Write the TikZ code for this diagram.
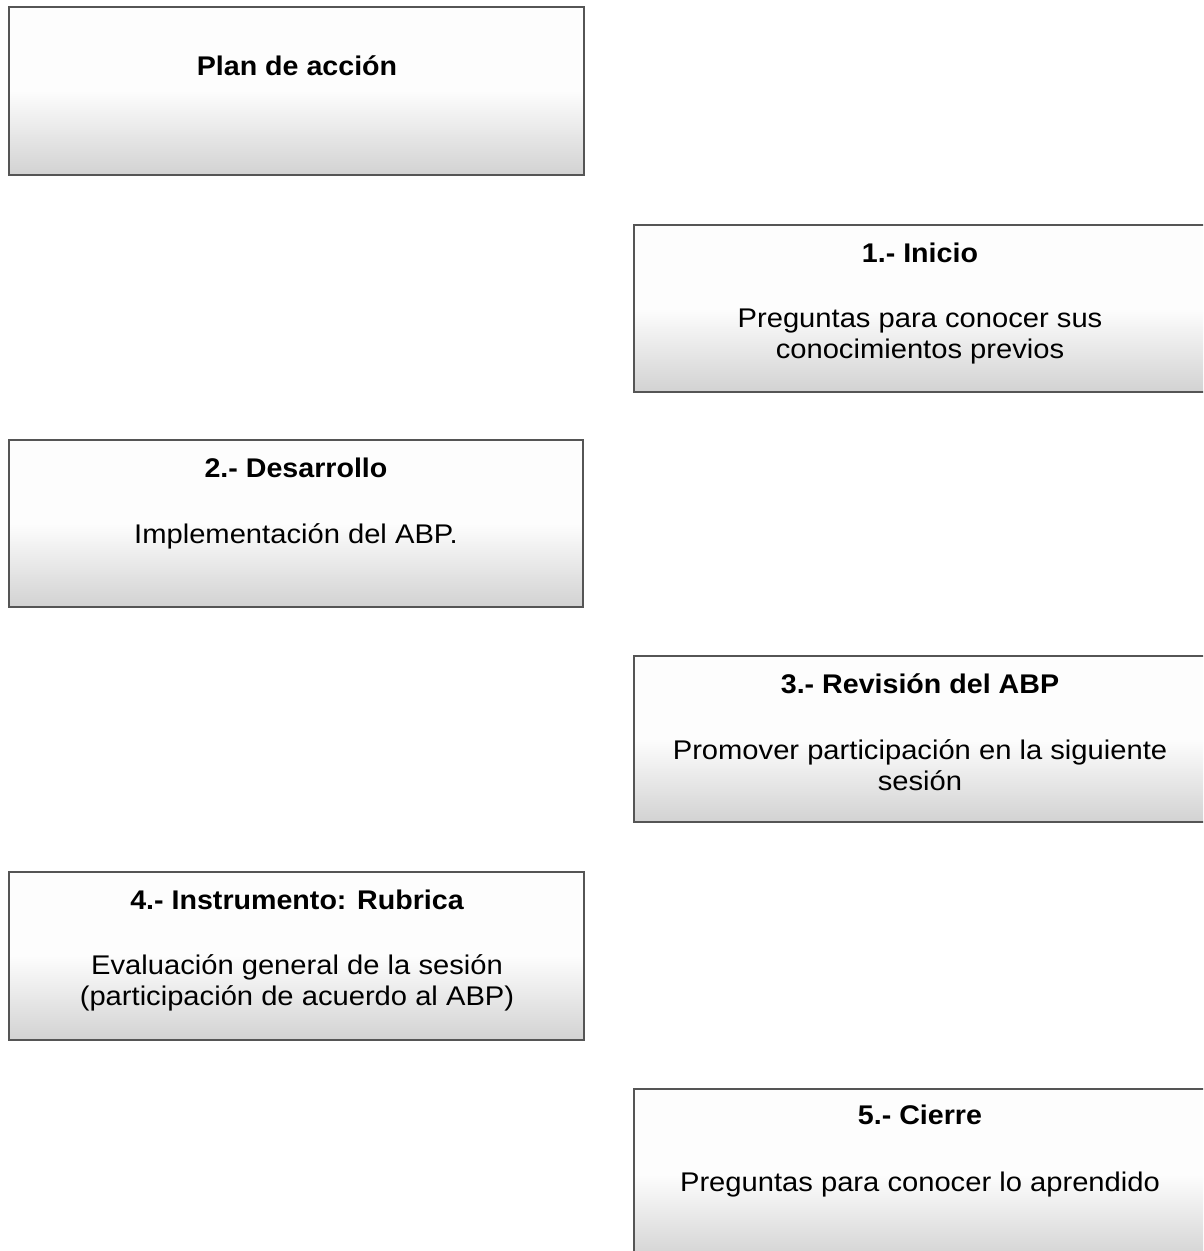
\documentclass[tikz,border=0pt]{standalone}
\usepackage{fontspec}
\setmainfont{Liberation Sans}[FakeStretch=1.08]
\newfontfamily\ttlfont{Liberation Sans}[FakeStretch=1.06]
\usetikzlibrary{calc}
\definecolor{edgegray}{HTML}{555555}
\definecolor{botgray}{HTML}{D2D2D2}
\definecolor{topgray}{HTML}{FDFDFD}
\tikzset{
  panel/.style={draw=edgegray, line width=2pt, rectangle, inner sep=0pt,
    top color=topgray, bottom color=botgray, middle color=topgray},
  ttl/.style={anchor=base, font=\ttlfont\fontsize{27}{31}\selectfont\bfseries, inner sep=0pt},
  bdy/.style={anchor=base, font=\fontsize{27}{31}\selectfont, align=center, inner sep=0pt},
}
\begin{document}
\begin{tikzpicture}[x=1pt,y=-1pt]
\useasboundingbox (0,0) rectangle (1203,1251);
\clip (0,0) rectangle (1203,1251);
% boxes
\node[panel, minimum width=575pt, minimum height=168pt] (b0) at (296.5,91) {};
\node[panel, minimum width=581pt, minimum height=167pt] (b1) at (924.5,308.5) {};
\node[panel, minimum width=574pt, minimum height=167pt] (b2) at (296,523.5) {};
\node[panel, minimum width=581pt, minimum height=166pt] (b3) at (924.5,739) {};
\node[panel, minimum width=575pt, minimum height=168pt] (b4) at (296.5,956) {};
\node[panel, minimum width=581pt, minimum height=171pt] (b5) at (924.5,1174.5) {};
% texts (two-line texts are placed by the baseline of their last line)
\node[ttl] (t0) at (297,75) {Plan de acción};
\node[ttl] (t1) at (920,262) {1.- Inicio};
\node[bdy] (d1) at (920,358) {Preguntas para conocer sus\\conocimientos previos};
\node[ttl] (t2) at (296,477) {2.- Desarrollo};
\node[bdy] (d2) at (296,543) {Implementación del ABP.};
\node[ttl] (t3) at (920,693) {3.- Revisión del ABP};
\node[bdy] (d3) at (920,790) {Promover participación en la siguiente\\sesión};
\node[ttl] (t4) at (297,909) {4.- Instrumento: Rubrica};
\node[bdy] (d4) at (297,1005) {Evaluación general de la sesión\\(participación de acuerdo al ABP)};
\node[ttl] (t5) at (920,1124) {5.- Cierre};
\node[bdy] (d5) at (920,1191) {Preguntas para conocer lo aprendido};
\end{tikzpicture}
\end{document}
